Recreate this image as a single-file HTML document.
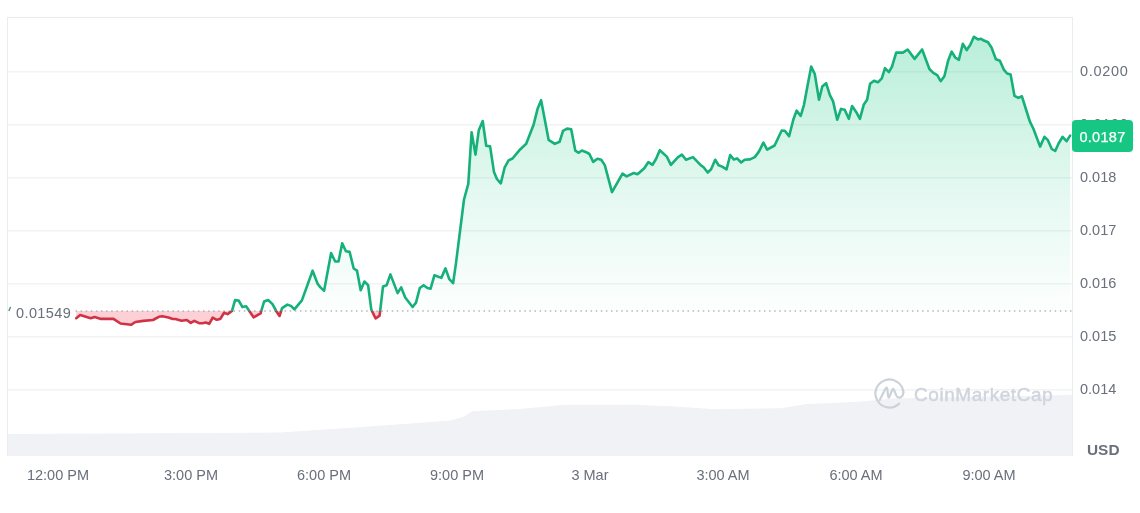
<!DOCTYPE html>
<html><head><meta charset="utf-8">
<style>
html,body{margin:0;padding:0;background:#fff;}
body{width:1140px;height:513px;position:relative;overflow:hidden;font-family:"Liberation Sans",sans-serif;}
.xl,.yl,.usd,.base,.price,.wm{will-change:transform;}
svg{position:absolute;left:0;top:0;}
.xl{position:absolute;top:466px;width:100px;text-align:center;font-size:14.5px;color:#696f7b;line-height:18px;white-space:nowrap;}
.yl{position:absolute;left:1079.5px;font-size:14.5px;letter-spacing:0.7px;color:#696f7b;line-height:18px;white-space:nowrap;}
.usd{position:absolute;left:1087.3px;top:441.3px;font-size:15.4px;font-weight:bold;color:#696f7b;line-height:18px;}
.base{position:absolute;left:12px;top:304px;padding:0 4px;background:#fff;font-size:14.5px;letter-spacing:0.4px;color:#696f7b;line-height:18px;}
.price{position:absolute;left:1072px;top:120px;width:61px;height:31.5px;border-radius:4px;background:#16c784;color:#fff;font-size:14.5px;letter-spacing:0.3px;line-height:34px;-webkit-text-stroke:0.25px #fff;text-align:center;}
.wm{position:absolute;left:914px;top:383.5px;font-size:19px;font-weight:normal;letter-spacing:0.55px;-webkit-text-stroke:0.45px #d0d4dd;color:#d0d4dd;line-height:22px;white-space:nowrap;}
</style></head><body>
<svg width="1140" height="513" viewBox="0 0 1140 513">
<defs>
<linearGradient id="gg" gradientUnits="userSpaceOnUse" x1="0" y1="37" x2="0" y2="311.0">
<stop offset="0" stop-color="#16c784" stop-opacity="0.30"/>
<stop offset="0.55" stop-color="#16c784" stop-opacity="0.12"/>
<stop offset="1" stop-color="#16c784" stop-opacity="0.01"/>
</linearGradient>
<clipPath id="above"><rect x="0" y="0" width="1140" height="311.0"/></clipPath>
<clipPath id="below"><rect x="0" y="311.0" width="1140" height="200"/></clipPath>
</defs>
<path d="M7,456 L7.0,434.0 L280.0,432.6 L340.5,428.4 L390.5,425.0 L451.0,420.5 L464.2,416.6 L472.0,411.3 L516.8,409.2 L564.2,404.7 L635.8,404.7 L675.3,406.6 L714.7,409.2 L780.5,408.2 L806.8,403.9 L833.2,402.9 L861.0,401.6 L892.6,398.4 L1050.5,395.3 L1073.0,394.8 L1073,456 Z" fill="#f1f2f5"/>
<g stroke="#eaecef" stroke-width="1" fill="none">
<line x1="7" y1="17.5" x2="1073" y2="17.5"/>
<line x1="7.5" y1="17" x2="7.5" y2="456"/>
<line x1="1072.5" y1="17" x2="1072.5" y2="456"/>
<line x1="7" y1="71.9" x2="1073" y2="71.9" /><line x1="7" y1="124.9" x2="1073" y2="124.9" /><line x1="7" y1="177.9" x2="1073" y2="177.9" /><line x1="7" y1="230.9" x2="1073" y2="230.9" /><line x1="7" y1="283.9" x2="1073" y2="283.9" /><line x1="7" y1="336.9" x2="1073" y2="336.9" /><line x1="7" y1="389.9" x2="1073" y2="389.9" />
</g>
<path d="M76.2,318.2 L80.2,315.0 L90.7,318.2 L94.6,317.0 L101.0,318.9 L113.5,318.9 L120.5,323.5 L131.0,324.8 L135.4,322.0 L143.3,320.9 L153.0,320.0 L158.8,316.8 L162.3,316.3 L168.4,317.6 L172.8,319.0 L175.4,319.0 L181.6,320.7 L186.8,320.0 L190.8,322.9 L194.3,320.9 L199.1,323.2 L202.6,323.2 L205.7,322.5 L209.2,323.8 L212.7,317.6 L216.7,319.8 L220.2,319.0 L224.1,312.8 L227.6,314.1 L232.0,310.9 L235.1,300.1 L238.6,300.5 L242.5,307.1 L246.1,306.3 L248.8,310.3 L253.6,317.3 L260.6,313.3 L264.1,301.5 L268.1,300.0 L272.5,304.1 L276.0,310.7 L279.5,316.0 L282.1,308.1 L287.4,304.6 L290.9,305.9 L294.4,309.4 L301.9,300.4 L312.6,270.7 L317.6,283.7 L320.4,287.4 L324.1,290.7 L331.1,253.1 L335.2,261.5 L338.5,261.5 L342.2,243.3 L345.9,251.3 L349.6,251.9 L353.7,268.5 L357.0,270.7 L360.7,290.2 L364.4,281.5 L368.1,285.2 L371.3,309.6 L375.6,318.5 L379.6,315.6 L383.0,286.5 L386.7,285.2 L390.4,274.4 L397.6,293.1 L401.2,287.4 L405.2,297.5 L412.6,307.0 L416.0,302.6 L419.8,288.0 L423.6,285.2 L427.4,288.0 L430.6,288.7 L434.4,275.3 L441.3,277.9 L445.5,268.4 L449.3,279.2 L453.1,283.2 L455.9,263.9 L464.0,199.5 L468.3,183.8 L471.6,132.2 L475.5,154.6 L478.8,130.2 L482.7,121.0 L486.2,145.8 L490.1,146.4 L494.0,172.1 L496.9,179.0 L500.8,183.4 L504.7,167.3 L508.6,160.4 L512.5,158.5 L519.3,150.3 L526.1,143.9 L533.6,124.8 L537.7,108.4 L541.1,100.2 L548.6,139.8 L554.8,143.9 L559.6,141.8 L563.0,130.9 L567.1,128.6 L571.2,129.3 L575.3,150.7 L578.7,152.8 L581.9,150.5 L586.2,152.2 L589.4,154.0 L593.2,161.9 L597.5,158.7 L601.2,159.7 L604.8,165.1 L612.0,192.1 L622.5,173.7 L626.6,176.4 L633.8,173.0 L637.5,174.3 L644.3,168.2 L648.4,162.1 L652.5,164.8 L655.9,159.3 L659.8,150.2 L666.8,156.6 L670.9,164.8 L677.8,157.3 L681.9,154.6 L686.0,159.7 L693.0,157.1 L700.9,165.3 L703.6,167.3 L707.7,172.5 L711.1,169.3 L715.2,159.8 L718.6,165.3 L722.1,166.6 L726.6,169.3 L730.2,155.0 L733.7,159.4 L737.1,158.4 L741.2,162.5 L744.6,159.8 L750.0,159.4 L754.8,157.1 L758.9,151.6 L763.4,142.7 L767.1,149.6 L774.6,145.5 L781.7,130.5 L784.8,130.7 L789.1,136.3 L793.3,119.7 L796.6,110.6 L800.7,116.0 L804.0,104.8 L807.4,86.5 L811.2,66.6 L814.8,74.1 L819.0,99.8 L822.3,86.5 L826.1,83.2 L829.8,94.8 L833.1,101.4 L837.2,119.7 L841.0,108.9 L844.7,109.7 L848.8,118.8 L852.1,106.1 L856.3,112.2 L859.9,118.8 L863.7,104.8 L867.1,99.8 L870.1,83.8 L874.0,80.7 L877.9,82.3 L881.8,78.4 L885.0,68.2 L888.9,72.1 L892.0,66.7 L896.2,52.6 L902.9,52.6 L907.6,49.5 L914.6,58.9 L922.1,49.5 L929.4,69.0 L933.3,72.9 L937.2,75.2 L940.7,81.2 L944.4,76.2 L948.2,60.4 L951.7,51.6 L955.2,57.5 L958.9,59.8 L962.8,43.8 L966.7,50.1 L970.2,45.0 L973.9,36.8 L978.0,39.4 L980.9,38.8 L983.9,40.5 L988.0,42.3 L991.5,47.5 L995.9,59.2 L999.9,60.8 L1003.8,69.6 L1007.1,73.5 L1010.6,74.5 L1014.5,95.9 L1018.4,97.9 L1021.9,96.3 L1026.5,111.0 L1029.9,121.7 L1033.3,128.5 L1040.1,146.6 L1044.5,136.8 L1047.9,140.2 L1051.8,149.0 L1055.2,151.0 L1058.7,143.2 L1062.6,136.8 L1066.5,141.2 L1070.1,135.6 L1070.1,311.0 L76.2,311.0 Z" fill="url(#gg)" clip-path="url(#above)"/>
<path d="M76.2,318.2 L80.2,315.0 L90.7,318.2 L94.6,317.0 L101.0,318.9 L113.5,318.9 L120.5,323.5 L131.0,324.8 L135.4,322.0 L143.3,320.9 L153.0,320.0 L158.8,316.8 L162.3,316.3 L168.4,317.6 L172.8,319.0 L175.4,319.0 L181.6,320.7 L186.8,320.0 L190.8,322.9 L194.3,320.9 L199.1,323.2 L202.6,323.2 L205.7,322.5 L209.2,323.8 L212.7,317.6 L216.7,319.8 L220.2,319.0 L224.1,312.8 L227.6,314.1 L232.0,310.9 L235.1,300.1 L238.6,300.5 L242.5,307.1 L246.1,306.3 L248.8,310.3 L253.6,317.3 L260.6,313.3 L264.1,301.5 L268.1,300.0 L272.5,304.1 L276.0,310.7 L279.5,316.0 L282.1,308.1 L287.4,304.6 L290.9,305.9 L294.4,309.4 L301.9,300.4 L312.6,270.7 L317.6,283.7 L320.4,287.4 L324.1,290.7 L331.1,253.1 L335.2,261.5 L338.5,261.5 L342.2,243.3 L345.9,251.3 L349.6,251.9 L353.7,268.5 L357.0,270.7 L360.7,290.2 L364.4,281.5 L368.1,285.2 L371.3,309.6 L375.6,318.5 L379.6,315.6 L383.0,286.5 L386.7,285.2 L390.4,274.4 L397.6,293.1 L401.2,287.4 L405.2,297.5 L412.6,307.0 L416.0,302.6 L419.8,288.0 L423.6,285.2 L427.4,288.0 L430.6,288.7 L434.4,275.3 L441.3,277.9 L445.5,268.4 L449.3,279.2 L453.1,283.2 L455.9,263.9 L464.0,199.5 L468.3,183.8 L471.6,132.2 L475.5,154.6 L478.8,130.2 L482.7,121.0 L486.2,145.8 L490.1,146.4 L494.0,172.1 L496.9,179.0 L500.8,183.4 L504.7,167.3 L508.6,160.4 L512.5,158.5 L519.3,150.3 L526.1,143.9 L533.6,124.8 L537.7,108.4 L541.1,100.2 L548.6,139.8 L554.8,143.9 L559.6,141.8 L563.0,130.9 L567.1,128.6 L571.2,129.3 L575.3,150.7 L578.7,152.8 L581.9,150.5 L586.2,152.2 L589.4,154.0 L593.2,161.9 L597.5,158.7 L601.2,159.7 L604.8,165.1 L612.0,192.1 L622.5,173.7 L626.6,176.4 L633.8,173.0 L637.5,174.3 L644.3,168.2 L648.4,162.1 L652.5,164.8 L655.9,159.3 L659.8,150.2 L666.8,156.6 L670.9,164.8 L677.8,157.3 L681.9,154.6 L686.0,159.7 L693.0,157.1 L700.9,165.3 L703.6,167.3 L707.7,172.5 L711.1,169.3 L715.2,159.8 L718.6,165.3 L722.1,166.6 L726.6,169.3 L730.2,155.0 L733.7,159.4 L737.1,158.4 L741.2,162.5 L744.6,159.8 L750.0,159.4 L754.8,157.1 L758.9,151.6 L763.4,142.7 L767.1,149.6 L774.6,145.5 L781.7,130.5 L784.8,130.7 L789.1,136.3 L793.3,119.7 L796.6,110.6 L800.7,116.0 L804.0,104.8 L807.4,86.5 L811.2,66.6 L814.8,74.1 L819.0,99.8 L822.3,86.5 L826.1,83.2 L829.8,94.8 L833.1,101.4 L837.2,119.7 L841.0,108.9 L844.7,109.7 L848.8,118.8 L852.1,106.1 L856.3,112.2 L859.9,118.8 L863.7,104.8 L867.1,99.8 L870.1,83.8 L874.0,80.7 L877.9,82.3 L881.8,78.4 L885.0,68.2 L888.9,72.1 L892.0,66.7 L896.2,52.6 L902.9,52.6 L907.6,49.5 L914.6,58.9 L922.1,49.5 L929.4,69.0 L933.3,72.9 L937.2,75.2 L940.7,81.2 L944.4,76.2 L948.2,60.4 L951.7,51.6 L955.2,57.5 L958.9,59.8 L962.8,43.8 L966.7,50.1 L970.2,45.0 L973.9,36.8 L978.0,39.4 L980.9,38.8 L983.9,40.5 L988.0,42.3 L991.5,47.5 L995.9,59.2 L999.9,60.8 L1003.8,69.6 L1007.1,73.5 L1010.6,74.5 L1014.5,95.9 L1018.4,97.9 L1021.9,96.3 L1026.5,111.0 L1029.9,121.7 L1033.3,128.5 L1040.1,146.6 L1044.5,136.8 L1047.9,140.2 L1051.8,149.0 L1055.2,151.0 L1058.7,143.2 L1062.6,136.8 L1066.5,141.2 L1070.1,135.6 L1070.1,311.0 L76.2,311.0 Z" fill="#f5485a" fill-opacity="0.26" clip-path="url(#below)"/>
<line x1="75.5" y1="311.0" x2="1072" y2="311.0" stroke="#8d939c" stroke-width="1.1" stroke-dasharray="1.5 3.6" />
<path d="M76.2,318.2 L80.2,315.0 L90.7,318.2 L94.6,317.0 L101.0,318.9 L113.5,318.9 L120.5,323.5 L131.0,324.8 L135.4,322.0 L143.3,320.9 L153.0,320.0 L158.8,316.8 L162.3,316.3 L168.4,317.6 L172.8,319.0 L175.4,319.0 L181.6,320.7 L186.8,320.0 L190.8,322.9 L194.3,320.9 L199.1,323.2 L202.6,323.2 L205.7,322.5 L209.2,323.8 L212.7,317.6 L216.7,319.8 L220.2,319.0 L224.1,312.8 L227.6,314.1 L232.0,310.9 L235.1,300.1 L238.6,300.5 L242.5,307.1 L246.1,306.3 L248.8,310.3 L253.6,317.3 L260.6,313.3 L264.1,301.5 L268.1,300.0 L272.5,304.1 L276.0,310.7 L279.5,316.0 L282.1,308.1 L287.4,304.6 L290.9,305.9 L294.4,309.4 L301.9,300.4 L312.6,270.7 L317.6,283.7 L320.4,287.4 L324.1,290.7 L331.1,253.1 L335.2,261.5 L338.5,261.5 L342.2,243.3 L345.9,251.3 L349.6,251.9 L353.7,268.5 L357.0,270.7 L360.7,290.2 L364.4,281.5 L368.1,285.2 L371.3,309.6 L375.6,318.5 L379.6,315.6 L383.0,286.5 L386.7,285.2 L390.4,274.4 L397.6,293.1 L401.2,287.4 L405.2,297.5 L412.6,307.0 L416.0,302.6 L419.8,288.0 L423.6,285.2 L427.4,288.0 L430.6,288.7 L434.4,275.3 L441.3,277.9 L445.5,268.4 L449.3,279.2 L453.1,283.2 L455.9,263.9 L464.0,199.5 L468.3,183.8 L471.6,132.2 L475.5,154.6 L478.8,130.2 L482.7,121.0 L486.2,145.8 L490.1,146.4 L494.0,172.1 L496.9,179.0 L500.8,183.4 L504.7,167.3 L508.6,160.4 L512.5,158.5 L519.3,150.3 L526.1,143.9 L533.6,124.8 L537.7,108.4 L541.1,100.2 L548.6,139.8 L554.8,143.9 L559.6,141.8 L563.0,130.9 L567.1,128.6 L571.2,129.3 L575.3,150.7 L578.7,152.8 L581.9,150.5 L586.2,152.2 L589.4,154.0 L593.2,161.9 L597.5,158.7 L601.2,159.7 L604.8,165.1 L612.0,192.1 L622.5,173.7 L626.6,176.4 L633.8,173.0 L637.5,174.3 L644.3,168.2 L648.4,162.1 L652.5,164.8 L655.9,159.3 L659.8,150.2 L666.8,156.6 L670.9,164.8 L677.8,157.3 L681.9,154.6 L686.0,159.7 L693.0,157.1 L700.9,165.3 L703.6,167.3 L707.7,172.5 L711.1,169.3 L715.2,159.8 L718.6,165.3 L722.1,166.6 L726.6,169.3 L730.2,155.0 L733.7,159.4 L737.1,158.4 L741.2,162.5 L744.6,159.8 L750.0,159.4 L754.8,157.1 L758.9,151.6 L763.4,142.7 L767.1,149.6 L774.6,145.5 L781.7,130.5 L784.8,130.7 L789.1,136.3 L793.3,119.7 L796.6,110.6 L800.7,116.0 L804.0,104.8 L807.4,86.5 L811.2,66.6 L814.8,74.1 L819.0,99.8 L822.3,86.5 L826.1,83.2 L829.8,94.8 L833.1,101.4 L837.2,119.7 L841.0,108.9 L844.7,109.7 L848.8,118.8 L852.1,106.1 L856.3,112.2 L859.9,118.8 L863.7,104.8 L867.1,99.8 L870.1,83.8 L874.0,80.7 L877.9,82.3 L881.8,78.4 L885.0,68.2 L888.9,72.1 L892.0,66.7 L896.2,52.6 L902.9,52.6 L907.6,49.5 L914.6,58.9 L922.1,49.5 L929.4,69.0 L933.3,72.9 L937.2,75.2 L940.7,81.2 L944.4,76.2 L948.2,60.4 L951.7,51.6 L955.2,57.5 L958.9,59.8 L962.8,43.8 L966.7,50.1 L970.2,45.0 L973.9,36.8 L978.0,39.4 L980.9,38.8 L983.9,40.5 L988.0,42.3 L991.5,47.5 L995.9,59.2 L999.9,60.8 L1003.8,69.6 L1007.1,73.5 L1010.6,74.5 L1014.5,95.9 L1018.4,97.9 L1021.9,96.3 L1026.5,111.0 L1029.9,121.7 L1033.3,128.5 L1040.1,146.6 L1044.5,136.8 L1047.9,140.2 L1051.8,149.0 L1055.2,151.0 L1058.7,143.2 L1062.6,136.8 L1066.5,141.2 L1070.1,135.6" fill="none" stroke="#16b07a" stroke-width="2.6" stroke-linejoin="round" stroke-linecap="round" clip-path="url(#above)"/>
<path d="M76.2,318.2 L80.2,315.0 L90.7,318.2 L94.6,317.0 L101.0,318.9 L113.5,318.9 L120.5,323.5 L131.0,324.8 L135.4,322.0 L143.3,320.9 L153.0,320.0 L158.8,316.8 L162.3,316.3 L168.4,317.6 L172.8,319.0 L175.4,319.0 L181.6,320.7 L186.8,320.0 L190.8,322.9 L194.3,320.9 L199.1,323.2 L202.6,323.2 L205.7,322.5 L209.2,323.8 L212.7,317.6 L216.7,319.8 L220.2,319.0 L224.1,312.8 L227.6,314.1 L232.0,310.9 L235.1,300.1 L238.6,300.5 L242.5,307.1 L246.1,306.3 L248.8,310.3 L253.6,317.3 L260.6,313.3 L264.1,301.5 L268.1,300.0 L272.5,304.1 L276.0,310.7 L279.5,316.0 L282.1,308.1 L287.4,304.6 L290.9,305.9 L294.4,309.4 L301.9,300.4 L312.6,270.7 L317.6,283.7 L320.4,287.4 L324.1,290.7 L331.1,253.1 L335.2,261.5 L338.5,261.5 L342.2,243.3 L345.9,251.3 L349.6,251.9 L353.7,268.5 L357.0,270.7 L360.7,290.2 L364.4,281.5 L368.1,285.2 L371.3,309.6 L375.6,318.5 L379.6,315.6 L383.0,286.5 L386.7,285.2 L390.4,274.4 L397.6,293.1 L401.2,287.4 L405.2,297.5 L412.6,307.0 L416.0,302.6 L419.8,288.0 L423.6,285.2 L427.4,288.0 L430.6,288.7 L434.4,275.3 L441.3,277.9 L445.5,268.4 L449.3,279.2 L453.1,283.2 L455.9,263.9 L464.0,199.5 L468.3,183.8 L471.6,132.2 L475.5,154.6 L478.8,130.2 L482.7,121.0 L486.2,145.8 L490.1,146.4 L494.0,172.1 L496.9,179.0 L500.8,183.4 L504.7,167.3 L508.6,160.4 L512.5,158.5 L519.3,150.3 L526.1,143.9 L533.6,124.8 L537.7,108.4 L541.1,100.2 L548.6,139.8 L554.8,143.9 L559.6,141.8 L563.0,130.9 L567.1,128.6 L571.2,129.3 L575.3,150.7 L578.7,152.8 L581.9,150.5 L586.2,152.2 L589.4,154.0 L593.2,161.9 L597.5,158.7 L601.2,159.7 L604.8,165.1 L612.0,192.1 L622.5,173.7 L626.6,176.4 L633.8,173.0 L637.5,174.3 L644.3,168.2 L648.4,162.1 L652.5,164.8 L655.9,159.3 L659.8,150.2 L666.8,156.6 L670.9,164.8 L677.8,157.3 L681.9,154.6 L686.0,159.7 L693.0,157.1 L700.9,165.3 L703.6,167.3 L707.7,172.5 L711.1,169.3 L715.2,159.8 L718.6,165.3 L722.1,166.6 L726.6,169.3 L730.2,155.0 L733.7,159.4 L737.1,158.4 L741.2,162.5 L744.6,159.8 L750.0,159.4 L754.8,157.1 L758.9,151.6 L763.4,142.7 L767.1,149.6 L774.6,145.5 L781.7,130.5 L784.8,130.7 L789.1,136.3 L793.3,119.7 L796.6,110.6 L800.7,116.0 L804.0,104.8 L807.4,86.5 L811.2,66.6 L814.8,74.1 L819.0,99.8 L822.3,86.5 L826.1,83.2 L829.8,94.8 L833.1,101.4 L837.2,119.7 L841.0,108.9 L844.7,109.7 L848.8,118.8 L852.1,106.1 L856.3,112.2 L859.9,118.8 L863.7,104.8 L867.1,99.8 L870.1,83.8 L874.0,80.7 L877.9,82.3 L881.8,78.4 L885.0,68.2 L888.9,72.1 L892.0,66.7 L896.2,52.6 L902.9,52.6 L907.6,49.5 L914.6,58.9 L922.1,49.5 L929.4,69.0 L933.3,72.9 L937.2,75.2 L940.7,81.2 L944.4,76.2 L948.2,60.4 L951.7,51.6 L955.2,57.5 L958.9,59.8 L962.8,43.8 L966.7,50.1 L970.2,45.0 L973.9,36.8 L978.0,39.4 L980.9,38.8 L983.9,40.5 L988.0,42.3 L991.5,47.5 L995.9,59.2 L999.9,60.8 L1003.8,69.6 L1007.1,73.5 L1010.6,74.5 L1014.5,95.9 L1018.4,97.9 L1021.9,96.3 L1026.5,111.0 L1029.9,121.7 L1033.3,128.5 L1040.1,146.6 L1044.5,136.8 L1047.9,140.2 L1051.8,149.0 L1055.2,151.0 L1058.7,143.2 L1062.6,136.8 L1066.5,141.2 L1070.1,135.6" fill="none" stroke="#d13246" stroke-width="2.6" stroke-linejoin="round" stroke-linecap="round" clip-path="url(#below)"/>
<line x1="8.8" y1="311" x2="10.6" y2="307" stroke="#3a8f6a" stroke-width="1.3"/>
<g fill="none" stroke="#cdd1da" stroke-width="2.2" stroke-linecap="round" stroke-linejoin="round">
<path d="M899.2,403.6 A14,14 0 1 1 903.4,392.2"/>
<path d="M879.7,400.1 L885.6,388.6 Q886.8,386.4 887.3,389 L888.2,396.6 Q888.6,398.6 889.5,396.6 L892.2,390 Q893.2,387.8 894,390 L896.4,395.6 Q897.6,398.2 900,397.6 Q903,396.8 903.4,392.2"/>
</g>
</svg>
<div class="yl" style="top:62.2px;letter-spacing:0.7px">0.0200</div><div class="yl" style="top:115.2px;letter-spacing:0.7px">0.0190</div><div class="yl" style="top:168.2px;letter-spacing:0px">0.018</div><div class="yl" style="top:221.2px;letter-spacing:0px">0.017</div><div class="yl" style="top:274.2px;letter-spacing:0px">0.016</div><div class="yl" style="top:327.2px;letter-spacing:0px">0.015</div><div class="yl" style="top:380.2px;letter-spacing:0px">0.014</div>
<div class="xl" style="left:7.8px">12:00 PM</div><div class="xl" style="left:140.8px">3:00 PM</div><div class="xl" style="left:273.8px">6:00 PM</div><div class="xl" style="left:406.8px">9:00 PM</div><div class="xl" style="left:539.8px">3 Mar</div><div class="xl" style="left:672.8px">3:00 AM</div><div class="xl" style="left:805.8px">6:00 AM</div><div class="xl" style="left:938.8px">9:00 AM</div>
<div class="base">0.01549</div>
<div class="price">0.0187</div>
<div class="usd">USD</div>
<div class="wm">CoinMarketCap</div>
</body></html>
